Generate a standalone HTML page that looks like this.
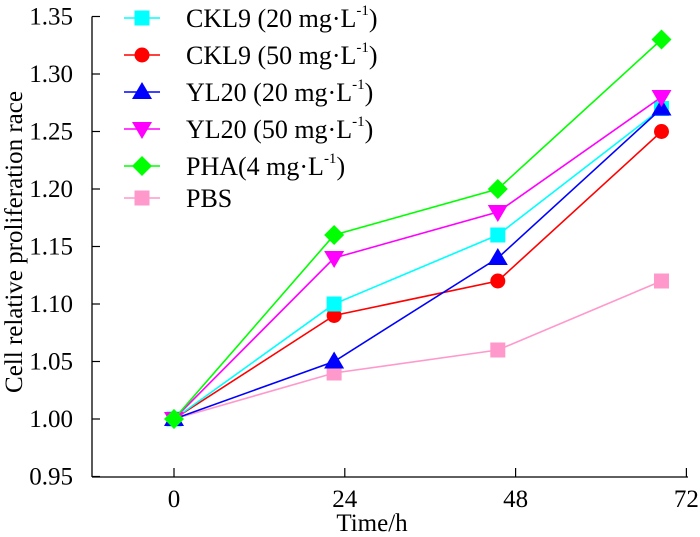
<!DOCTYPE html>
<html><head><meta charset="utf-8"><style>
body{margin:0;background:#fff}
svg text{font-family:"Liberation Serif",serif;fill:#000}
</style></head><body>
<svg id="c" width="700" height="532"></svg>
<script>
const times=[0,22.5,45.5,68.5];
const xTicks=[0,24,48,72];
const yTicks=[0.95,1.00,1.05,1.10,1.15,1.20,1.25,1.30,1.35];
const ckl9_20=[1.00,1.10,1.16,1.27];
const ckl9_50=[1.00,1.09,1.12,1.25];
const yl20_20=[1.00,1.05,1.14,1.27];
const yl20_50=[1.00,1.14,1.18,1.28];
const pha=[1.00,1.16,1.20,1.33];
const pbs=[1.00,1.04,1.06,1.12];
const names=["CKL9 (20 mg·L","CKL9 (50 mg·L","YL20 (20 mg·L","YL20 (50 mg·L","PHA(4 mg·L","PBS"];
const svg=document.getElementById('c');const NS='http://www.w3.org/2000/svg';
const X=t=>174+(t/24)*170.8;
const Y=v=>476.5-(v-0.95)/0.05*57.5;
function el(tag,a,p){const e=document.createElementNS(NS,tag);for(const k in a)e.setAttribute(k,a[k]);(p||svg).appendChild(e);return e;}
let ax=el('line',{x1:92,y1:477,x2:688,y2:477,stroke:'#000','stroke-width':1.3});


let ay=el('line',{x1:92,y1:Y(1.35),x2:92,y2:477,stroke:'#000','stroke-width':1.3});


xTicks.forEach(t=>{el('line',{x1:X(t),y1:477,x2:X(t),y2:468,stroke:'#000','stroke-width':1.2});
 const tx=el('text',{x:X(t),y:507,'text-anchor':'middle','font-size':25});tx.textContent=t;
 
 });
yTicks.forEach(v=>{el('line',{x1:92,y1:Y(v),x2:100,y2:Y(v),stroke:'#000','stroke-width':1.2});
 const tx=el('text',{x:73,y:Y(v)+8,'text-anchor':'end','font-size':25});tx.textContent=v.toFixed(2);
 
 });
let xt=el('text',{x:372,y:531,'text-anchor':'middle','font-size':25});xt.textContent='Time/h';


let yt=el('text',{x:0,y:0,'text-anchor':'middle','font-size':25,transform:'translate(22,242) rotate(-90)'});yt.textContent='Cell relative proliferation race';


const series=[ckl9_20,ckl9_50,yl20_20,yl20_50,pha,pbs];
const colors=['#00ffff','#ff0000','#0000ff','#ff00ff','#00ff00','#ff99cc'];
const shapes=['sq','ci','tu','td','di','sq'];
function marker(s,x,y,c,g){
 if(s==='sq')return el('rect',{x:x-7.5,y:y-7.5,width:15,height:15,fill:c},g);
 if(s==='ci')return el('circle',{cx:x,cy:y,r:7.5,fill:c},g);
 if(s==='tu')return el('polygon',{points:`${x},${y-10} ${x-10},${y+7} ${x+10},${y+7}`,fill:c},g);
 if(s==='td')return el('polygon',{points:`${x},${y+10} ${x-10},${y-7} ${x+10},${y-7}`,fill:c},g);
 return el('polygon',{points:`${x},${y-10} ${x+10},${y} ${x},${y+10} ${x-10},${y}`,fill:c},g);}
[5,1,0,2,3,4].forEach(i=>{const g=el('g',{});
 
 
 el('polyline',{points:series[i].map((v,j)=>X(times[j])+','+Y(v)).join(' '),fill:'none',stroke:colors[i],'stroke-width':1.6},g);
 series[i].forEach((v,j)=>{const m=marker(shapes[i],X(times[j]),Y(v),colors[i],g);
  
  });});
const ly=[18,55,92,129,166,198];
names.forEach((n,i)=>{const g=el('g',{});
 
 
 el('line',{x1:124,y1:ly[i],x2:160,y2:ly[i],stroke:colors[i],'stroke-width':1.6},g);
 marker(shapes[i],142,ly[i],colors[i],g);
 const t=el('text',{x:186,y:ly[i]+9,'font-size':26},g);t.textContent=n;
 if(i<5){const s=el('tspan',{dy:-12,'font-size':15},t);s.textContent='-1';const r=el('tspan',{dy:12},t);r.textContent=')';}});
</script>
</body></html>
